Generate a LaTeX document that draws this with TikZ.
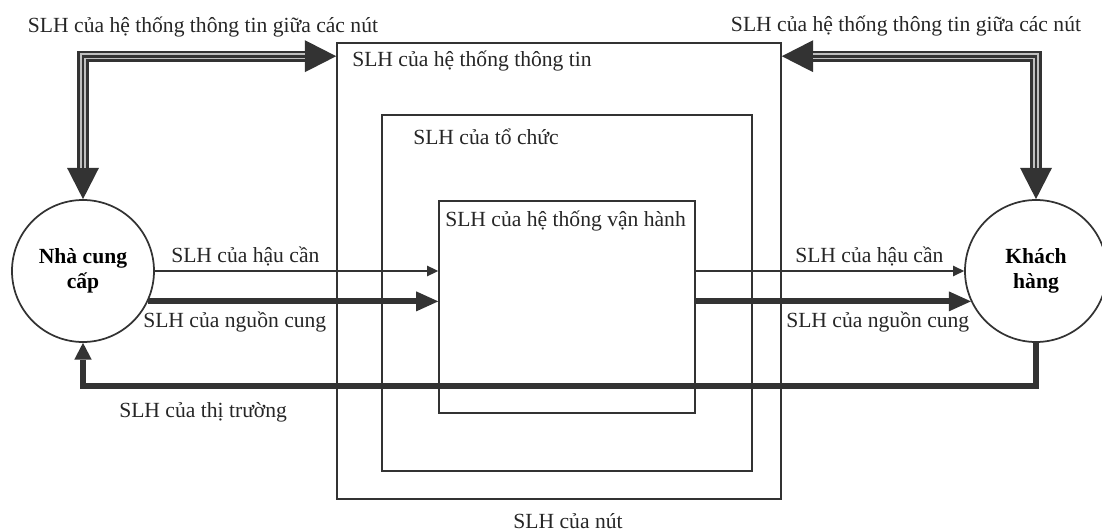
\documentclass[tikz,border=0pt]{standalone}
\usepackage{fontspec}
\setmainfont{Liberation Serif}
\usetikzlibrary{arrows.meta,fit,calc}
\definecolor{lc}{gray}{0.2}
\begin{document}
\begin{tikzpicture}[x=0.75pt,y=-0.75pt,
  font=\fontsize{16.2}{18}\selectfont,
  box/.style={draw=lc, line width=1.2pt, inner sep=0pt},
  lbl/.style={inner sep=0pt, anchor=base west, text=black!85},
  clbl/.style={inner sep=0pt, anchor=base, text=black!85},
  nodecirc/.style={circle, draw=lc, line width=1.3pt, minimum size=106.5pt, inner sep=0pt, align=center, font=\fontsize{16.2}{18.5}\selectfont\bfseries, fill=white},
  thinarrow/.style={draw=lc, line width=1.8pt, -{Triangle[length=8.25pt,width=8pt,line width=0pt]}},
  thickarrow/.style={draw=lc, line width=4.5pt, -{Triangle[length=16.5pt,width=15pt,line width=0pt]}},
  marketline/.style={draw=lc, line width=4.2pt, -{Triangle[length=12.5pt,width=13pt,line width=0pt]}},
  triA/.style={draw=lc, line width=8.3pt, {Triangle[length=23.5pt,width=24pt,line width=0pt]}-{Triangle[length=23.5pt,width=24pt,line width=0pt]}},
  triB/.style={draw=black!25, line width=4.2pt, shorten <=23.4pt, shorten >=23.4pt},
  triC/.style={draw=lc, line width=2.1pt, shorten <=23.4pt, shorten >=23.4pt}
]
\useasboundingbox (0,0) rectangle (1102,531);

% box corners
\coordinate (o1) at (337,43);  \coordinate (o2) at (781,499);
\coordinate (m1) at (382,115); \coordinate (m2) at (752,471);
\coordinate (i1) at (439,201); \coordinate (i2) at (695,413);
\node[box, fit=(o1)(o2)] (outer) {};
\node[box, fit=(m1)(m2)] (middle) {};
\node[box, fit=(i1)(i2)] (inner) {};

% circles
\node[nodecirc] (sup) at (83,271) {Nhà cung\\cấp};
\node[nodecirc] (cus) at (1036,271) {Khách\\hàng};

% information system arrows (triple lines)
\coordinate (iL) at ($(outer.north west)+(0,14)$);
\coordinate (iR) at ($(outer.north east)+(0,14)$);
\draw[triA] (sup.north) |- (iL);
\draw[triB] (sup.north) |- (iL);
\draw[triC] (sup.north) |- (iL);
\draw[triA] (cus.north) |- (iR);
\draw[triB] (cus.north) |- (iR);
\draw[triC] (cus.north) |- (iR);

% logistics and supply arrows
\draw[thinarrow] (sup.east) -- (sup.east -| inner.west);
\draw[thickarrow] (sup.-25) -- (sup.-25 -| inner.west);
\draw[thinarrow] (inner.east |- cus.west) -- (cus.west);
\draw[thickarrow] (inner.east |- cus.205) -- (cus.205);

% market line
\coordinate (mk) at ($(cus.south)+(0,43)$);
\draw[marketline] (cus.south) -- (mk) -| (sup.south);

% labels
\node[clbl] (t1) at (203,33) {SLH của hệ thống thông tin giữa các nút};
\node[clbl] (t2) at (906,32) {SLH của hệ thống thông tin giữa các nút};
\node[lbl] (t3) at (352,67) {SLH của hệ thống thông tin};
\node[lbl] (t4) at (413,145) {SLH của tổ chức};
\node[lbl] (t5) at (445,226) {SLH của hệ thống vận hành};
\node[lbl] (t6) at (171,262) {SLH của hậu cần};
\node[lbl] (t7) at (795,262) {SLH của hậu cần};
\node[lbl] (t8) at (143,327) {SLH của nguồn cung};
\node[lbl] (t9) at (786,327) {SLH của nguồn cung};
\node[lbl] (t10) at (119,417) {SLH của thị trường};
\node[clbl] (t11) at (568,528) {SLH của nút};
\end{tikzpicture}
\end{document}
